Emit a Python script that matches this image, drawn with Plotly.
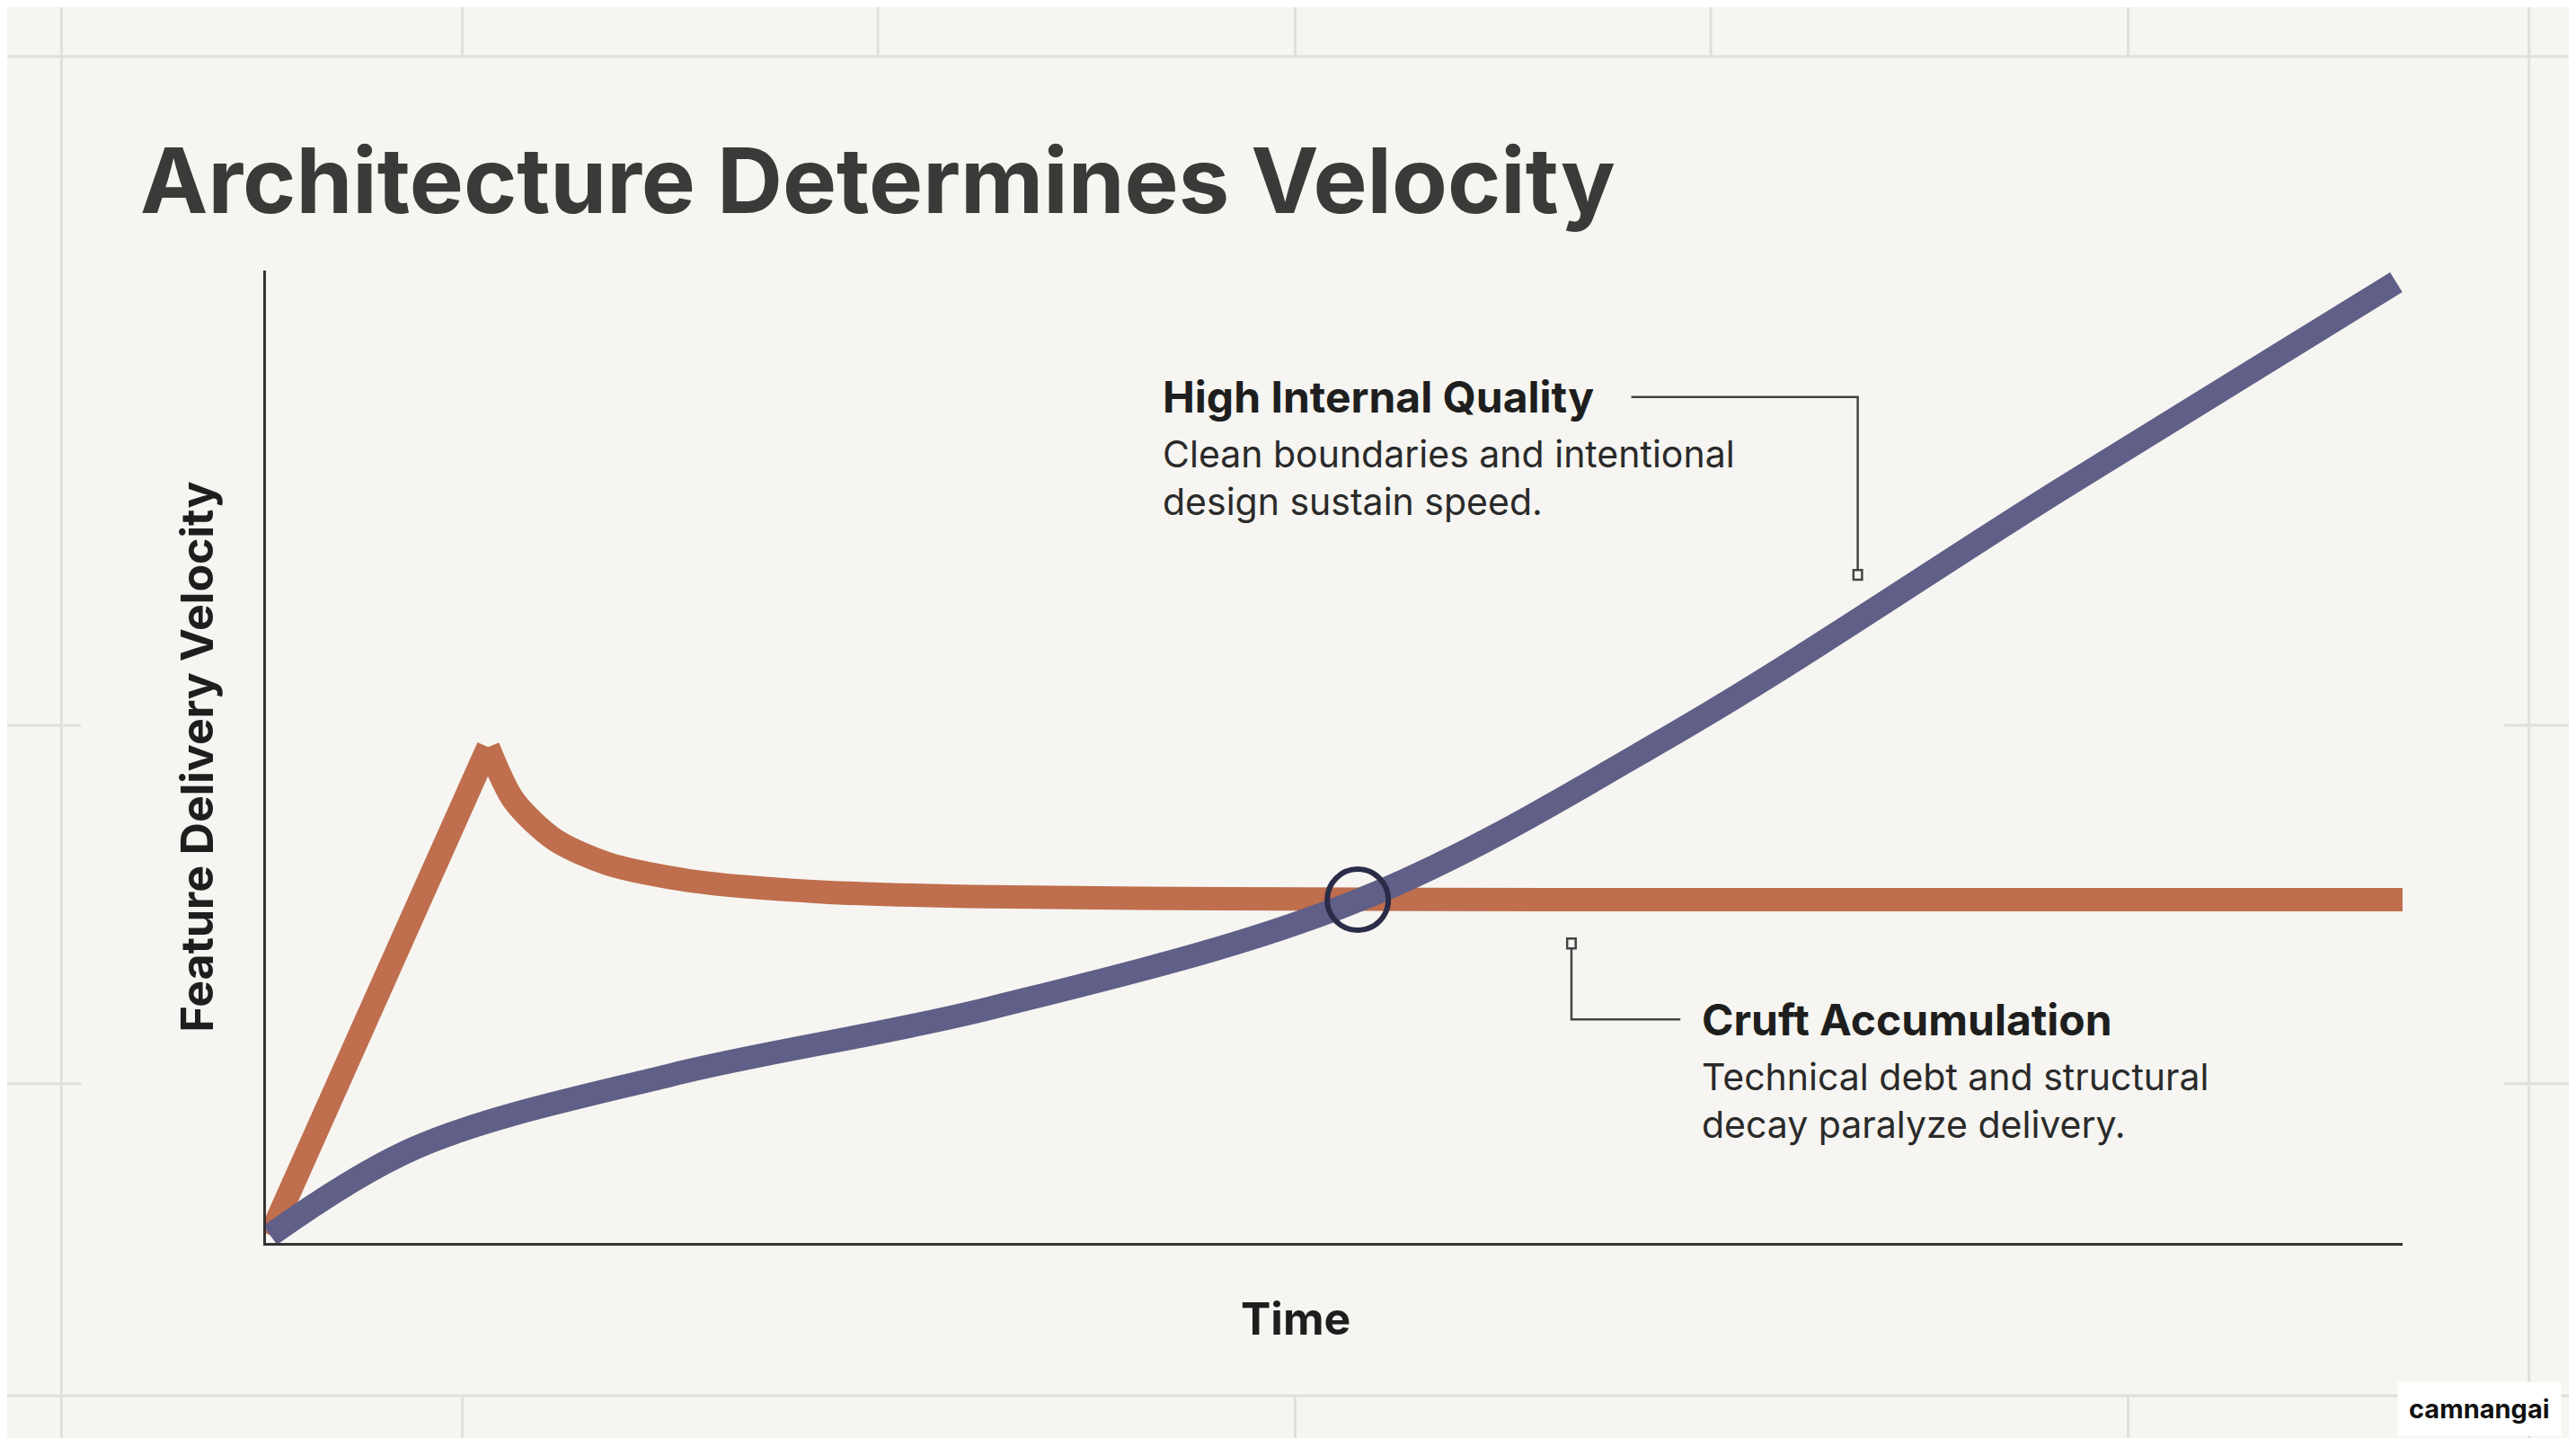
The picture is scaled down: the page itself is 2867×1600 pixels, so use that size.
import plotly.graph_objects as go

W, H = 2867, 1600
L, R, T, B = 288, 201, 293, 225

# curve data (x = time 0..100, y = velocity 0..100)
rise_x = [0.2, 10.4]
rise_y = [0.8, 51]
cruft_x = [10.4, 11.6, 13.5, 16, 20, 26, 34, 45, 60, 100]
cruft_y = [51, 45.5, 41.5, 39, 37.2, 36.1, 35.6, 35.4, 35.3, 35.3]
quality_x = [0.2, 7, 19, 34, 51.2, 66, 84, 99.7]
quality_y = [0.8, 9.8, 17.3, 24.2, 35.3, 52.5, 77.5, 98.8]
cross_x, cross_y = [51.1], [35.3]

ORANGE = "#BF6E4E"
BLUE = "#5F5F87"
INK = "#1E1E1E"
GRID = "#E1DFD9"


def px(fx):  # figure pixel (x) -> paper
    return (fx - L) / (W - L - R)


def py(fy):  # figure pixel (y from top) -> paper
    return 1 - (fy - T) / (H - T - B)


fig = go.Figure()
fig.add_trace(go.Scatter(x=rise_x, y=rise_y, mode="lines", line=dict(color=ORANGE, width=26), hoverinfo="skip"))
fig.add_trace(go.Scatter(x=cruft_x, y=cruft_y, mode="lines", line=dict(color=ORANGE, width=26, shape="spline", smoothing=0.8), hoverinfo="skip"))
fig.add_trace(go.Scatter(x=quality_x, y=quality_y, mode="lines", line=dict(color=BLUE, width=26, shape="spline", smoothing=1), hoverinfo="skip"))
fig.add_trace(go.Scatter(x=cross_x, y=cross_y, mode="markers", marker=dict(size=68, color="rgba(0,0,0,0)", line=dict(color="#2A2C48", width=6)), hoverinfo="skip"))

shapes = []
# faint background frame lines
s = W / 1568
for gx in [33, 1535]:
    shapes.append(dict(type="line", xref="paper", yref="paper", x0=px(gx * s), x1=px(gx * s), y0=py(0), y1=py(H), line=dict(color=GRID, width=3), layer="below"))
for gy in [30, 845]:
    shapes.append(dict(type="line", xref="paper", yref="paper", x0=px(0), x1=px(W), y0=py(gy * s), y1=py(gy * s), line=dict(color=GRID, width=3), layer="below"))
for gx in [277, 530, 784, 1037, 1291]:
    shapes.append(dict(type="line", xref="paper", yref="paper", x0=px(gx * s), x1=px(gx * s), y0=py(0), y1=py(30 * s), line=dict(color=GRID, width=3), layer="below"))
for gx in [277, 784, 1291]:
    shapes.append(dict(type="line", xref="paper", yref="paper", x0=px(gx * s), x1=px(gx * s), y0=py(845 * s), y1=py(H), line=dict(color=GRID, width=3), layer="below"))
for gy in [437, 655]:
    shapes.append(dict(type="line", xref="paper", yref="paper", x0=px(0), x1=px(45 * s), y0=py(gy * s), y1=py(gy * s), line=dict(color=GRID, width=3), layer="below"))
    shapes.append(dict(type="line", xref="paper", yref="paper", x0=px(1520 * s), x1=px(W), y0=py(gy * s), y1=py(gy * s), line=dict(color=GRID, width=3), layer="below"))

# callout leaders
lead = dict(color="#444444", width=2.5)
shapes.append(dict(type="path", path="M 63.9 87 L 74.5 87 L 74.5 68.9", line=lead))
shapes.append(dict(type="rect", x0=74.3, x1=74.7, y0=68.2, y1=69.2, line=lead, fillcolor="#F6F5F1"))
shapes.append(dict(type="path", path="M 61.1 30.3 L 61.1 23 L 66.2 23", line=lead))
shapes.append(dict(type="rect", x0=60.9, x1=61.3, y0=30.3, y1=31.3, line=lead, fillcolor="#F6F5F1"))

annotations = [
    dict(text="Architecture Determines Velocity", xref="paper", yref="paper", x=px(80 * s), y=py(105 * s), xanchor="left", yanchor="middle",
         showarrow=False, font=dict(family="Inter", size=101, color="#3A3A38", weight="bold")),
    dict(text="<b>High Internal Quality</b>", x=41.9, y=87, xanchor="left", yanchor="middle", showarrow=False,
         font=dict(family="Inter", size=48, color=INK)),
    dict(text="Clean boundaries and intentional<br>design sustain speed.", x=41.9, y=83.6, xanchor="left", yanchor="top", align="left",
         showarrow=False, font=dict(family="Inter", size=41, color="#2A2A2A")),
    dict(text="<b>Cruft Accumulation</b>", x=67.1, y=23, xanchor="left", yanchor="middle", showarrow=False,
         font=dict(family="Inter", size=48, color=INK)),
    dict(text="Technical debt and structural<br>decay paralyze delivery.", x=67.1, y=19.6, xanchor="left", yanchor="top", align="left",
         showarrow=False, font=dict(family="Inter", size=41, color="#2A2A2A")),
    dict(text="<b>Time</b>", xref="paper", yref="paper", x=px(784 * s), y=py(798 * s), xanchor="center", yanchor="middle",
         showarrow=False, font=dict(family="Inter", size=50, color=INK)),
    dict(text="<b>camnangai</b>", xref="paper", yref="paper", x=px(1555 * s), y=py(853 * s), xanchor="right", yanchor="middle",
         showarrow=False, bgcolor="#FFFFFF", borderpad=12, font=dict(family="Inter", size=29, color="#111111")),
]

fig.update_layout(
    width=W, height=H,
    margin=dict(l=L, r=R, t=T, b=B),
    paper_bgcolor="#F6F5F1", plot_bgcolor="#F6F5F1",
    showlegend=False,
    shapes=shapes, annotations=annotations,
    xaxis=dict(range=[0, 100], showgrid=False, zeroline=False, showticklabels=False, ticks="",
               showline=True, linecolor="#333333", linewidth=3),
    yaxis=dict(range=[0, 100], showgrid=False, zeroline=False, showticklabels=False, ticks="",
               showline=True, linecolor="#333333", linewidth=3,
               title=dict(text="<b>Feature Delivery Velocity</b>", font=dict(family="Inter", size=50, color=INK), standoff=40)),
)

fig.write_html("out.html")
